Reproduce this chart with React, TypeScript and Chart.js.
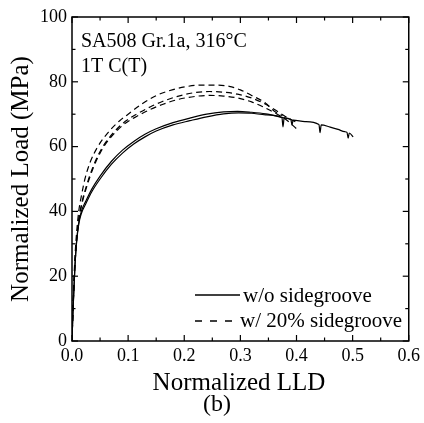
import React, { useEffect, useRef } from "react";
import { Chart, registerables } from "chart.js";

Chart.register(...registerables);

// ---- Data ----
const solidAX = [0, 0.002, 0.005, 0.008, 0.012, 0.017, 0.025, 0.035, 0.05, 0.07, 0.09, 0.11, 0.13, 0.15, 0.18, 0.21, 0.24, 0.27, 0.297, 0.32, 0.345, 0.374, 0.376, 0.378, 0.39, 0.392, 0.394, 0.415, 0.44, 0.442, 0.444, 0.46, 0.474, 0.486, 0.49, 0.492, 0.494, 0.501];
const solidAY = [0, 10, 22, 30, 36, 39.5, 42.5, 46, 50, 54.5, 58, 60.8, 63, 64.8, 66.7, 68.0, 69.2, 70.1, 70.4, 70.3, 69.8, 69.0, 66.1, 68.9, 68.3, 66.7, 68.2, 67.7, 66.8, 64.3, 66.7, 66.0, 65.3, 64.6, 64.4, 62.6, 64.2, 63];

const solidBX = [0, 0.002, 0.005, 0.008, 0.012, 0.017, 0.025, 0.035, 0.05, 0.07, 0.09, 0.11, 0.13, 0.15, 0.18, 0.21, 0.24, 0.27, 0.295, 0.32, 0.345, 0.37, 0.39];
const solidBY = [0, 10.5, 22.5, 30.5, 36.5, 40.2, 43.3, 46.8, 50.9, 55.4, 58.9, 61.6, 63.8, 65.5, 67.4, 68.8, 70.0, 70.7, 70.9, 70.6, 70.1, 69.2, 68.4];

const dash1X = [0, 0.002, 0.005, 0.008, 0.012, 0.017, 0.023, 0.032, 0.046, 0.065, 0.085, 0.1, 0.125, 0.152, 0.18, 0.203, 0.23, 0.255, 0.28, 0.3, 0.32, 0.345, 0.36, 0.375];
const dash1Y = [0, 12, 25, 33, 40, 45, 50, 55, 60, 64.5, 68, 70, 73.2, 75.9, 77.6, 78.5, 79, 79, 78.6, 77.5, 75.8, 73.4, 71, 69.5];

const dash2X = [0, 0.002, 0.005, 0.008, 0.012, 0.018, 0.026, 0.038, 0.055, 0.075, 0.095, 0.115, 0.14, 0.161, 0.19, 0.22, 0.245, 0.27, 0.295, 0.32, 0.34, 0.36, 0.38, 0.4];
const dash2Y = [0, 11, 23, 31, 37.5, 43, 48, 54, 60, 64.5, 67.8, 70, 72.3, 73.9, 75.6, 76.7, 77, 76.8, 76.2, 75, 73.5, 71.5, 69.3, 67.5];

const dash3X = [0, 0.002, 0.005, 0.008, 0.012, 0.018, 0.026, 0.038, 0.055, 0.075, 0.095, 0.115, 0.14, 0.161, 0.19, 0.22, 0.245, 0.27, 0.295, 0.32, 0.34, 0.36, 0.38, 0.4];
const dash3Y = [0, 10.5, 22.5, 30.5, 37, 42.5, 47.5, 53.5, 59.5, 64, 67.2, 69.3, 71.5, 73, 74.6, 75.5, 75.8, 75.6, 75, 73.8, 72.3, 70.5, 68.5, 65.5];

const xMajorTicks = [0, 0.1, 0.2, 0.3, 0.4, 0.5, 0.6];
const xMinorTicks = [0.05, 0.15, 0.25, 0.35, 0.45, 0.55];
const yMajorTicks = [0, 20, 40, 60, 80, 100];
const yMinorTicks = [10, 30, 50, 70, 90];

const legendLabels = ["w/o sidegroove", "w/ 20% sidegroove"];
const annotationLines = ["SA508 Gr.1a, 316\u00B0C", "1T C(T)"];
const xTitle = "Normalized LLD";
const yTitle = "Normalized Load (MPa)";
const panelLabel = "(b)";

const FONT = '"Liberation Serif", "Times New Roman", serif';

const toPts = (xs: number[], ys: number[]) => xs.map((x, i) => ({ x, y: ys[i] }));

const decorPlugin = {
  id: "decor",
  afterDraw(chart: any) {
    const { ctx, chartArea: a, scales } = chart;
    const xs = scales.x;
    const ys = scales.y;
    ctx.save();
    ctx.strokeStyle = "#000";
    ctx.fillStyle = "#000";
    // frame
    ctx.lineWidth = 1.5;
    ctx.strokeRect(a.left, a.top, a.right - a.left, a.bottom - a.top);
    // inward ticks on all sides
    const seg = (x1: number, y1: number, x2: number, y2: number) => {
      ctx.beginPath();
      ctx.moveTo(x1, y1);
      ctx.lineTo(x2, y2);
      ctx.stroke();
    };
    ctx.lineWidth = 1.2;
    const xt = (vals: number[], len: number) =>
      vals.forEach((v) => {
        const p = xs.getPixelForValue(v);
        seg(p, a.bottom, p, a.bottom - len);
        seg(p, a.top, p, a.top + len);
      });
    const yt = (vals: number[], len: number) =>
      vals.forEach((v) => {
        const p = ys.getPixelForValue(v);
        seg(a.left, p, a.left + len, p);
        seg(a.right, p, a.right - len, p);
      });
    xt(xMajorTicks, 6);
    xt(xMinorTicks, 3.5);
    yt(yMajorTicks, 6);
    yt(yMinorTicks, 3.5);

    // annotation
    ctx.font = `20px ${FONT}`;
    ctx.textAlign = "left";
    ctx.textBaseline = "alphabetic";
    ctx.fillText(annotationLines[0], 81, 47);
    ctx.fillText(annotationLines[1], 81, 72);

    // legend
    ctx.font = `21px ${FONT}`;
    ctx.lineWidth = 1.3;
    ctx.setLineDash([]);
    seg(195, 295, 240, 295);
    ctx.fillText(legendLabels[0], 243, 302);
    ctx.setLineDash([7, 8]);
    seg(195, 321, 234, 321);
    ctx.setLineDash([]);
    ctx.fillText(legendLabels[1], 240, 327);

    // axis titles
    ctx.font = `25px ${FONT}`;
    ctx.textAlign = "center";
    ctx.fillText(xTitle, 239, 390);
    ctx.font = `24px ${FONT}`;
    ctx.fillText(panelLabel, 217, 411);
    ctx.save();
    ctx.translate(28, 179);
    ctx.rotate(-Math.PI / 2);
    ctx.font = `25px ${FONT}`;
    ctx.fillText(yTitle, 0, 0);
    ctx.restore();
    ctx.restore();
  },
};

export default function App() {
  const ref = useRef<HTMLCanvasElement | null>(null);
  useEffect(() => {
    if (!ref.current) return;
    const line = (xs: number[], ys: number[], dashed: boolean) => ({
      data: toPts(xs, ys),
      borderColor: "#000",
      backgroundColor: "#000",
      borderWidth: 1.2,
      borderDash: dashed ? [6, 4] : [],
      pointRadius: 0,
      cubicInterpolationMode: "monotone" as const,
      fill: false,
    });
    const chart = new Chart(ref.current, {
      type: "line",
      data: {
        datasets: [
          line(solidAX, solidAY, false),
          line(solidBX, solidBY, false),
          line(dash1X, dash1Y, true),
          line(dash2X, dash2Y, true),
          line(dash3X, dash3Y, true),
        ],
      },
      options: {
        animation: false,
        responsive: false,
        devicePixelRatio: 1,
        layout: { padding: { top: 17, right: 13, left: 0, bottom: 0 } },
        plugins: { legend: { display: false }, tooltip: { enabled: false } },
        scales: {
          x: {
            type: "linear",
            min: 0,
            max: 0.6,
            grid: { display: false, drawTicks: false },
            border: { display: false },
            ticks: {
              stepSize: 0.1,
              color: "#000",
              padding: 4,
              maxRotation: 0,
              font: { family: FONT, size: 18 },
              callback: (v: any) => Number(v).toFixed(1),
            },
            afterFit: (s: any) => {
              s.height = 82;
            },
          },
          y: {
            type: "linear",
            min: 0,
            max: 100,
            grid: { display: false, drawTicks: false },
            border: { display: false },
            ticks: {
              stepSize: 20,
              color: "#000",
              padding: 5,
              font: { family: FONT, size: 18 },
            },
            afterFit: (s: any) => {
              s.width = 72;
            },
          },
        },
      },
      plugins: [decorPlugin],
    });
    return () => chart.destroy();
  }, []);
  return (
    <div style={{ position: "fixed", left: 0, top: 0, width: 424, height: 423, background: "#fff" }}>
      <canvas ref={ref} width={424} height={423} style={{ display: "block", width: 424, height: 423 }} />
    </div>
  );
}
